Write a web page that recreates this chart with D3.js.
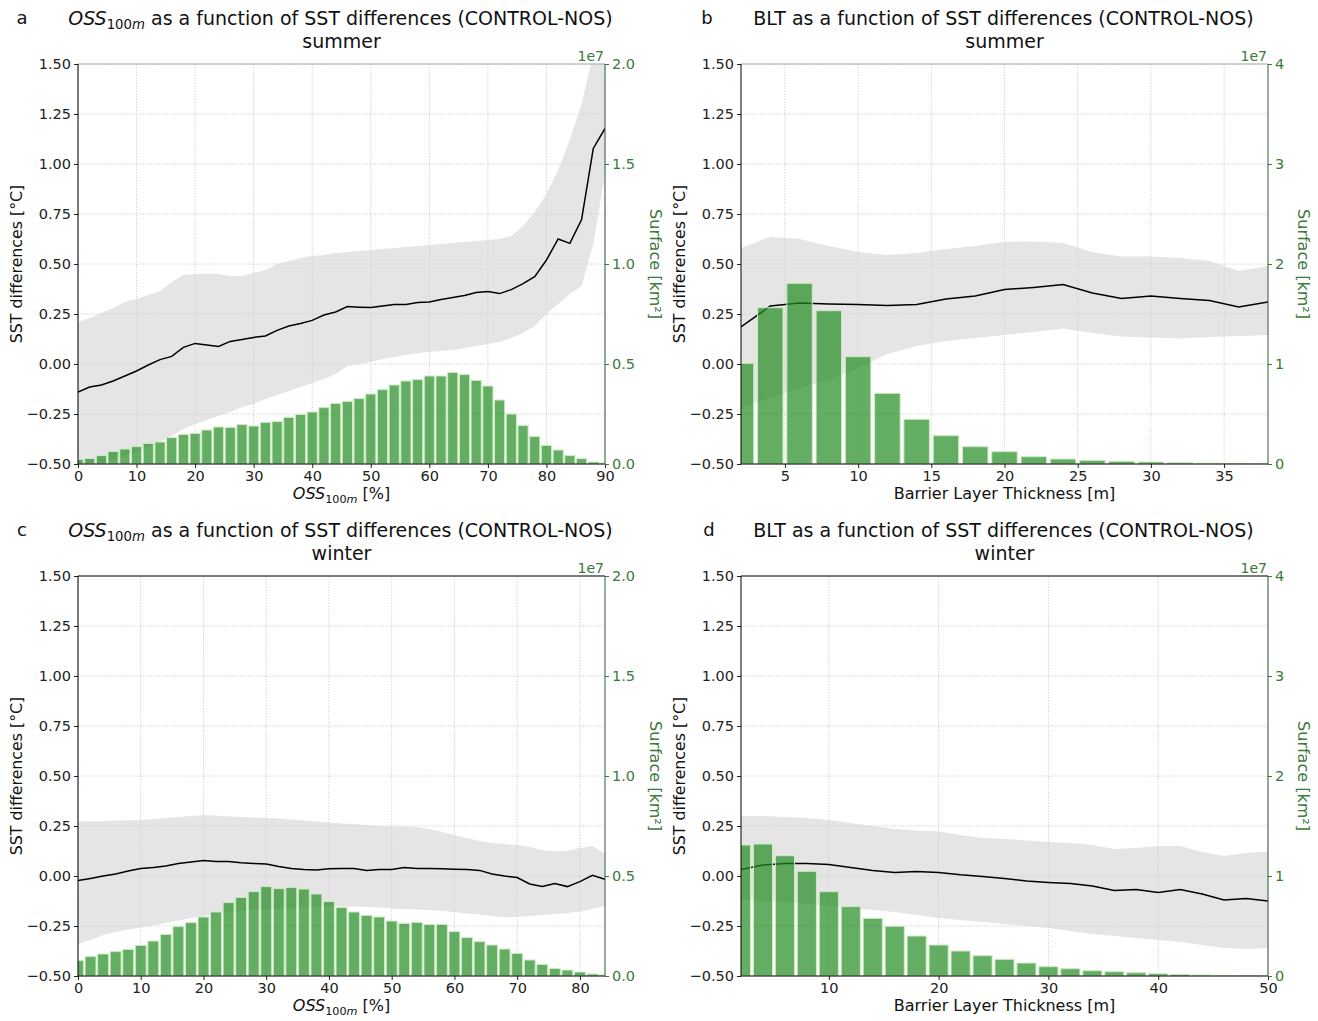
<!DOCTYPE html>
<html><head><meta charset="utf-8">
<script src="https://cdn.jsdelivr.net/npm/d3@7"></script>
<style>body{margin:0;background:#fff} text{font-family:"DejaVu Sans",sans-serif}</style>
</head><body><svg id="c" width="1318" height="1021"></svg>
<script>
// ---------- DATA ----------
// Panel a: OSS100m summer (x = OSS100m bin centre, %)
const xA = [0,2,4,6,8,10,12,14,16,18,20,22,24,26,28,30,32,34,36,38,40,42,44,46,48,50,52,54,56,58,60,62,64,66,68,70,72,74,76,78,80,82,84,86,88,90];
const lineA = [-0.140,-0.115,-0.105,-0.085,-0.060,-0.035,-0.005,0.022,0.038,0.083,0.103,0.095,0.088,0.113,0.122,0.133,0.140,0.168,0.190,0.203,0.218,0.245,0.260,0.287,0.284,0.282,0.290,0.297,0.298,0.308,0.310,0.323,0.332,0.342,0.357,0.362,0.352,0.372,0.402,0.437,0.520,0.625,0.603,0.722,1.078,1.178];
const upperA = [0.21,0.23,0.255,0.28,0.31,0.325,0.345,0.365,0.41,0.445,0.45,0.453,0.45,0.44,0.44,0.455,0.47,0.5,0.515,0.53,0.54,0.545,0.555,0.56,0.565,0.57,0.575,0.58,0.585,0.59,0.595,0.6,0.605,0.61,0.615,0.62,0.625,0.64,0.69,0.76,0.85,0.97,1.12,1.3,1.55,1.8];
const lowerA = [-0.52,-0.52,-0.5,-0.48,-0.46,-0.44,-0.415,-0.39,-0.36,-0.325,-0.3,-0.28,-0.26,-0.24,-0.215,-0.2,-0.175,-0.155,-0.135,-0.115,-0.095,-0.075,-0.05,-0.01,0.0,0.01,0.025,0.035,0.045,0.055,0.06,0.065,0.07,0.08,0.09,0.1,0.11,0.13,0.155,0.19,0.25,0.3,0.35,0.39,0.6,0.95];
const barsA = [0.023,0.028,0.042,0.063,0.075,0.087,0.103,0.11,0.132,0.148,0.153,0.17,0.185,0.183,0.197,0.19,0.208,0.212,0.233,0.248,0.26,0.282,0.303,0.313,0.327,0.35,0.372,0.395,0.415,0.422,0.44,0.44,0.458,0.447,0.418,0.39,0.32,0.25,0.192,0.137,0.093,0.07,0.042,0.027,0.01,0.005]; // ×1e7 km²

// Panel b: BLT summer (x = barrier layer thickness bin centre, m)
const xB = [2,4,6,8,10,12,14,16,18,20,22,24,26,28,30,32,34,36,38];
const lineB = [0.185,0.29,0.305,0.30,0.297,0.293,0.298,0.325,0.34,0.372,0.383,0.397,0.355,0.328,0.34,0.328,0.317,0.285,0.31];
const upperB = [0.58,0.635,0.625,0.59,0.56,0.545,0.555,0.575,0.59,0.61,0.613,0.605,0.56,0.538,0.537,0.53,0.515,0.465,0.49];
const lowerB = [-0.22,-0.17,-0.12,-0.08,-0.02,0.05,0.09,0.115,0.13,0.145,0.16,0.178,0.155,0.138,0.133,0.128,0.135,0.14,0.145];
const barsB = [1.007,1.563,1.807,1.533,1.073,0.707,0.447,0.283,0.173,0.123,0.073,0.05,0.037,0.027,0.02,0.013,0.007,0.004,0.002];

// Panel c: OSS100m winter
const xC = [0,2,4,6,8,10,12,14,16,18,20,22,24,26,28,30,32,34,36,38,40,42,44,46,48,50,52,54,56,58,60,62,64,66,68,70,72,74,76,78,80,82,84];
const lineC = [-0.023,-0.012,0.0,0.01,0.025,0.038,0.043,0.05,0.062,0.07,0.078,0.072,0.073,0.066,0.063,0.06,0.047,0.038,0.033,0.03,0.036,0.037,0.037,0.028,0.033,0.032,0.042,0.037,0.037,0.036,0.034,0.033,0.028,0.01,0.0,-0.008,-0.04,-0.053,-0.037,-0.053,-0.028,0.003,-0.017];
const upperC = [0.272,0.273,0.275,0.277,0.279,0.28,0.285,0.29,0.295,0.3,0.305,0.302,0.298,0.295,0.292,0.29,0.287,0.283,0.278,0.272,0.268,0.263,0.26,0.255,0.25,0.248,0.247,0.245,0.235,0.22,0.205,0.19,0.175,0.165,0.16,0.155,0.145,0.13,0.122,0.125,0.14,0.15,0.11];
const lowerC = [-0.34,-0.32,-0.295,-0.28,-0.268,-0.258,-0.248,-0.235,-0.223,-0.21,-0.2,-0.19,-0.182,-0.175,-0.17,-0.167,-0.164,-0.162,-0.158,-0.155,-0.153,-0.153,-0.153,-0.155,-0.158,-0.162,-0.165,-0.168,-0.17,-0.175,-0.18,-0.187,-0.193,-0.2,-0.205,-0.205,-0.2,-0.195,-0.19,-0.185,-0.178,-0.165,-0.15];
const barsC = [0.077,0.097,0.11,0.122,0.133,0.153,0.175,0.208,0.247,0.267,0.295,0.32,0.367,0.393,0.422,0.447,0.437,0.443,0.435,0.41,0.372,0.343,0.32,0.303,0.295,0.275,0.263,0.268,0.257,0.258,0.222,0.192,0.172,0.155,0.135,0.113,0.08,0.058,0.038,0.03,0.02,0.01,0.005];

// Panel d: BLT winter
const xD = [2,4,6,8,10,12,14,16,18,20,22,24,26,28,30,32,34,36,38,40,42,44,46,48,50];
const lineD = [0.033,0.055,0.063,0.062,0.057,0.042,0.027,0.018,0.023,0.018,0.006,-0.003,-0.013,-0.025,-0.032,-0.038,-0.05,-0.073,-0.067,-0.082,-0.067,-0.09,-0.12,-0.112,-0.125];
const upperD = [0.30,0.30,0.295,0.29,0.28,0.265,0.25,0.235,0.228,0.222,0.205,0.19,0.185,0.178,0.17,0.165,0.155,0.135,0.14,0.15,0.15,0.12,0.1,0.115,0.122];
const lowerD = [-0.12,-0.125,-0.13,-0.14,-0.15,-0.16,-0.17,-0.18,-0.195,-0.21,-0.22,-0.23,-0.24,-0.25,-0.26,-0.275,-0.29,-0.3,-0.31,-0.32,-0.33,-0.345,-0.36,-0.365,-0.36];
const barsD = [1.31,1.32,1.203,1.047,0.843,0.693,0.577,0.497,0.40,0.31,0.25,0.203,0.167,0.13,0.093,0.073,0.053,0.043,0.033,0.023,0.017,0.01,0.005,0.003,0.001];

// Ticks
const yTicks = [-0.5,-0.25,0,0.25,0.5,0.75,1.0,1.25,1.5];
const xTicksA = [0,10,20,30,40,50,60,70,80,90];
const xTicksB = [5,10,15,20,25,30,35];
const xTicksC = [0,10,20,30,40,50,60,70,80];
const xTicksD = [10,20,30,40,50];
const rTicksOSS = [0,0.5,1.0,1.5,2.0];
const rTicksBLT = [0,1,2,3,4];

// ---------- DRAW ----------
const svg = d3.select('#c');
const W = 527, H = 400;
const GREEN_TXT = '#3a7a3a';

const panels = [
  {id:'a', letter:'a', letterX:22, left:78, top:64, xDomain:[0,90], xs:xA, line:lineA, up:upperA, lo:lowerA, bars:barsA, xTicks:xTicksA, rMax:2.0, rTicks:rTicksOSS, rFmt:'.1f', oss:true, season:'summer', topCol:'#aaaaaa', rLabelX:650},
  {id:'b', letter:'b', letterX:707, left:741, top:64, xDomain:[2,38], xs:xB, line:lineB, up:upperB, lo:lowerB, bars:barsB, xTicks:xTicksB, rMax:4, rTicks:rTicksBLT, rFmt:'d', oss:false, season:'summer', topCol:'#aaaaaa', rLabelX:1298},
  {id:'c', letter:'c', letterX:22, left:78, top:576, xDomain:[0,84], xs:xC, line:lineC, up:upperC, lo:lowerC, bars:barsC, xTicks:xTicksC, rMax:2.0, rTicks:rTicksOSS, rFmt:'.1f', oss:true, season:'winter', topCol:'#000', rLabelX:650},
  {id:'d', letter:'d', letterX:709, left:741, top:576, xDomain:[2,50], xs:xD, line:lineD, up:upperD, lo:lowerD, bars:barsD, xTicks:xTicksD, rMax:4, rTicks:rTicksBLT, rFmt:'d', oss:false, season:'winter', topCol:'#000', rLabelX:1298}
];

function ossText(sel, rest){
  sel.append('tspan').attr('font-style','italic').text('OSS');
  sel.append('tspan').attr('font-size','0.7em').attr('dy',4).text('100');
  sel.append('tspan').attr('font-size','0.7em').attr('font-style','italic').text('m');
  sel.append('tspan').attr('dy',-4).text(rest);
}

panels.forEach(p => {
  const g = svg.append('g');
  const x = d3.scaleLinear().domain(p.xDomain).range([p.left, p.left + W]);
  const y = d3.scaleLinear().domain([-0.5, 1.5]).range([p.top + H, p.top]);
  const y2 = d3.scaleLinear().domain([0, p.rMax]).range([p.top + H, p.top]);
  const cid = 'clip' + p.id;
  svg.append('clipPath').attr('id', cid).append('rect')
    .attr('x', p.left).attr('y', p.top).attr('width', W).attr('height', H);

  // grid
  const grid = g.append('g').attr('stroke', '#b5b5b5').attr('stroke-width', 0.8).attr('stroke-dasharray', '1,1.7');
  grid.selectAll('.gx').data(p.xTicks).join('line').attr('class','gx')
    .attr('x1', d => x(d)).attr('x2', d => x(d)).attr('y1', p.top).attr('y2', p.top + H);
  grid.selectAll('.gy').data(yTicks).join('line').attr('class','gy')
    .attr('x1', p.left).attr('x2', p.left + W).attr('y1', d => y(d)).attr('y2', d => y(d));

  const pts = p.xs.map((v, i) => ({x: v, line: p.line[i], up: p.up[i], lo: p.lo[i], bar: p.bars[i]}));
  const plot = g.append('g').attr('clip-path', `url(#${cid})`);
  plot.append('path').datum(pts)
    .attr('d', d3.area().x(d => x(d.x)).y0(d => y(d.lo)).y1(d => y(d.up)))
    .attr('fill', '#d3d3d3').attr('fill-opacity', 0.6);
  plot.append('path').datum(pts)
    .attr('d', d3.line().x(d => x(d.x)).y(d => y(d.line)))
    .attr('fill', 'none').attr('stroke', '#000').attr('stroke-width', 1.5);
  plot.append('g').selectAll('rect').data(pts).join('rect')
    .attr('x', d => x(d.x - 0.87)).attr('width', d => x(d.x + 0.87) - x(d.x - 0.87))
    .attr('y', d => y2(d.bar)).attr('height', d => y2(0) - y2(d.bar))
    .attr('fill', 'forestgreen').attr('fill-opacity', 0.7)
    .attr('stroke', '#cdebc4').attr('stroke-width', 1);

  // axes
  const styleAxis = (a, col) => {
    a.select('.domain').remove();
    a.attr('font-family', '"DejaVu Sans", sans-serif').attr('font-size', 14.5);
    a.selectAll('line').attr('stroke', col);
    a.selectAll('text').attr('fill', col);
  };
  const axB = g.append('g').attr('transform', `translate(0,${p.top + H})`)
    .call(d3.axisBottom(x).tickValues(p.xTicks).tickSize(4).tickPadding(3).tickFormat(d3.format('d')));
  styleAxis(axB, '#222');
  const axL = g.append('g').attr('transform', `translate(${p.left},0)`)
    .call(d3.axisLeft(y).tickValues(yTicks).tickSize(4).tickPadding(3).tickFormat(d3.format('.2f')));
  styleAxis(axL, '#222');
  const axR = g.append('g').attr('transform', `translate(${p.left + W},0)`)
    .call(d3.axisRight(y2).tickValues(p.rTicks).tickSize(4).tickPadding(3).tickFormat(d3.format(p.rFmt)));
  styleAxis(axR, GREEN_TXT);

  // spines
  g.append('line').attr('x1', p.left).attr('x2', p.left + W).attr('y1', p.top).attr('y2', p.top).attr('stroke', p.topCol).attr('stroke-width', 1);
  g.append('line').attr('x1', p.left).attr('x2', p.left + W).attr('y1', p.top + H).attr('y2', p.top + H).attr('stroke', '#000').attr('stroke-width', 1);
  g.append('line').attr('x1', p.left).attr('x2', p.left).attr('y1', p.top).attr('y2', p.top + H).attr('stroke', '#000').attr('stroke-width', 1);
  g.append('line').attr('x1', p.left + W).attr('x2', p.left + W).attr('y1', p.top).attr('y2', p.top + H).attr('stroke', '#2d5f2d').attr('stroke-width', 1);

  // offset text
  g.append('text').attr('x', p.left + W - 1).attr('y', p.top - 3).attr('text-anchor', 'end')
    .attr('font-size', 14).attr('fill', GREEN_TXT).text('1e7');

  // titles
  const cx = p.left + W / 2;
  const t1 = g.append('text').attr('x', cx - 1).attr('y', p.top - 39).attr('text-anchor', 'middle').attr('font-size', 19).attr('fill', '#111');
  if (p.oss) ossText(t1, ' as a function of SST differences (CONTROL-NOS)');
  else t1.text('BLT as a function of SST differences (CONTROL-NOS)');
  g.append('text').attr('x', cx).attr('y', p.top - 16).attr('text-anchor', 'middle').attr('font-size', 19).attr('fill', '#111').text(p.season);
  g.append('text').attr('x', p.letterX).attr('y', p.top - 40).attr('text-anchor', 'middle').attr('font-size', 18).attr('fill', '#111').text(p.letter);

  // x label
  const xl = g.append('text').attr('x', cx).attr('y', p.top + H + 35).attr('text-anchor', 'middle').attr('font-size', 16).attr('fill', '#111');
  if (p.oss) ossText(xl, ' [%]');
  else xl.text('Barrier Layer Thickness [m]');

  // y labels
  g.append('text').attr('transform', `translate(${p.left - 56},${p.top + H / 2}) rotate(-90)`)
    .attr('text-anchor', 'middle').attr('font-size', 15.8).attr('fill', '#111').text('SST differences [°C]');
  g.append('text').attr('transform', `translate(${p.rLabelX},${p.top + H / 2}) rotate(90)`)
    .attr('text-anchor', 'middle').attr('font-size', 16).attr('fill', GREEN_TXT).text('Surface [km²]');
});
</script></body></html>
